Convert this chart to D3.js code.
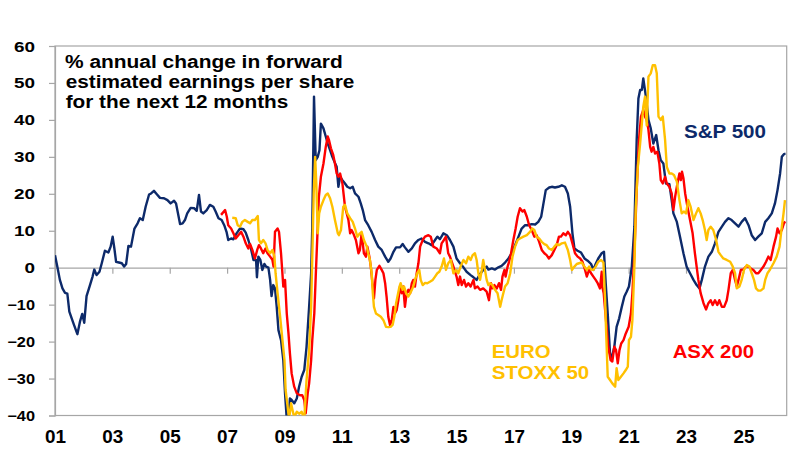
<!DOCTYPE html>
<html>
<head>
<meta charset="utf-8">
<script src="https://cdn.jsdelivr.net/npm/d3@7"></script>
<style>
  html, body { margin: 0; padding: 0; background: #fff; }
  svg { display: block; }
  text { font-family: "Liberation Sans", Arial, sans-serif; font-weight: bold; }
</style>
</head>
<body>
<svg id="chart" width="803" height="455"></svg>
<script>
// ---------------- DATA ----------------
const yTicks = [-40, -30, -20, -10, 0, 10, 20, 30, 40, 50, 60];
const xTickYears = [2001, 2003, 2005, 2007, 2009, 2011, 2013, 2015, 2017, 2019, 2021, 2023, 2025];
const xTickLabels = ["01", "03", "05", "07", "09", "11", "13", "15", "17", "19", "21", "23", "25"];
const seriesNames = ["S&P 500", "EURO STOXX 50", "ASX 200"];

const spDates = [2001.00,2001.08,2001.17,2001.26,2001.35,2001.43,2001.50,2001.64,2001.78,2001.87,2001.95,2002.02,2002.10,2002.22,2002.31,2002.37,2002.45,2002.55,2002.63,2002.74,2002.86,2002.94,2003.01,2003.07,2003.13,2003.23,2003.33,2003.41,2003.48,2003.56,2003.65,2003.77,2003.88,2003.96,2004.06,2004.16,2004.28,2004.35,2004.45,2004.55,2004.66,2004.80,2004.92,2005.03,2005.15,2005.22,2005.36,2005.45,2005.53,2005.61,2005.73,2005.85,2005.94,2006.02,2006.09,2006.17,2006.29,2006.40,2006.52,2006.60,2006.70,2006.81,2006.90,2006.98,2007.04,2007.14,2007.22,2007.33,2007.45,2007.57,2007.65,2007.74,2007.83,2007.92,2008.01,2008.04,2008.09,2008.16,2008.23,2008.30,2008.36,2008.44,2008.50,2008.55,2008.61,2008.67,2008.73,2008.79,2008.88,2008.96,2009.02,2009.08,2009.14,2009.19,2009.25,2009.34,2009.43,2009.51,2009.60,2009.69,2009.77,2009.86,2009.93,2009.97,2010.03,2010.09,2010.16,2010.22,2010.27,2010.36,2010.44,2010.51,2010.59,2010.67,2010.74,2010.82,2010.88,2010.94,2011.02,2011.11,2011.19,2011.29,2011.38,2011.46,2011.58,2011.66,2011.73,2011.81,2011.92,2012.04,2012.16,2012.27,2012.39,2012.51,2012.62,2012.70,2012.80,2012.89,2013.03,2013.12,2013.20,2013.32,2013.44,2013.55,2013.67,2013.78,2013.90,2014.02,2014.13,2014.25,2014.33,2014.42,2014.54,2014.66,2014.77,2014.89,2015.00,2015.12,2015.24,2015.35,2015.49,2015.59,2015.70,2015.82,2015.93,2016.05,2016.11,2016.23,2016.34,2016.46,2016.57,2016.69,2016.81,2016.92,2017.04,2017.16,2017.27,2017.39,2017.50,2017.62,2017.74,2017.85,2017.95,2018.03,2018.11,2018.23,2018.32,2018.43,2018.55,2018.67,2018.78,2018.88,2018.96,2019.04,2019.11,2019.22,2019.34,2019.46,2019.57,2019.69,2019.77,2019.85,2019.94,2020.06,2020.14,2020.20,2020.27,2020.35,2020.41,2020.50,2020.58,2020.67,2020.76,2020.85,2020.93,2021.01,2021.11,2021.20,2021.28,2021.34,2021.40,2021.46,2021.51,2021.57,2021.61,2021.69,2021.77,2021.86,2021.96,2022.04,2022.12,2022.21,2022.30,2022.42,2022.50,2022.56,2022.68,2022.79,2022.91,2023.02,2023.14,2023.26,2023.37,2023.47,2023.55,2023.66,2023.78,2023.90,2024.01,2024.13,2024.25,2024.36,2024.48,2024.59,2024.71,2024.83,2024.94,2025.06,2025.18,2025.29,2025.41,2025.52,2025.64,2025.76,2025.87,2025.99,2026.10,2026.19,2026.28,2026.34,2026.42,2026.47];
const spValues = [3.4,0.3,-3.3,-5.6,-6.8,-7,-11.9,-15,-18,-14.6,-12.5,-14.9,-7.7,-4.7,-2.4,-0.5,-2,-1.1,1.2,4.6,4.1,5.7,8.4,5.2,1.6,1.4,1.2,0.3,1,5.9,5.7,10.6,12,13.4,12.9,16.5,19.8,20.1,20.8,19.9,18.9,18.8,18.3,17.4,18.1,17.4,11.8,12,12.9,14.7,16.2,16.1,15.4,19.7,15.2,14.7,15.6,17,16.5,15.2,13.4,12.9,11.5,9.7,7.5,7.9,7.7,9.3,10.6,10.4,9.5,7.5,5.2,2.1,2.1,-2.6,3,2.1,-0.6,1,0.3,0,-3.3,-7.7,-4.7,-5.6,-10.6,-16.9,-19.6,-25,-34,-41,-41,-35.4,-35.8,-36.7,-35.4,-32.2,-29.5,-27.7,-21.4,-10.6,-1.5,11,46.3,29.1,30,31.8,39,37.7,35.5,33.6,31.8,30,28.7,27.3,21.9,24.6,23.7,22.8,21.9,21.5,21.9,20.1,19.2,17.4,15.6,12.9,11.5,9.7,7.5,5.7,4.8,3,1.6,2.5,4.3,5.5,5.5,6.4,5.5,4.3,5.2,6.6,7.5,7.9,7,6.6,6.1,7.5,8.4,7.7,9.3,8.8,7.5,5.7,2.5,1.2,0.1,-1.1,-2,-2.6,-3.3,-1.7,-0.6,0.3,-0.5,-0.2,-0.5,0.1,0.5,1.4,2.5,3.9,6.1,8.4,10.6,11.5,11.5,11.8,11.7,12.4,13.8,17.4,21,21.7,21.9,21.7,21.9,22.3,21.9,20.1,16.5,9.3,5.2,4.6,4.1,2.5,1.9,1,-0.6,1,2.5,3.9,4.3,-4.2,-12.4,-23.2,-24.5,-21.4,-16,-13.7,-10.6,-7.8,-6.5,-5.1,0.3,11.1,34.6,45.8,48.1,48.1,51.2,48,45.8,40,37.7,33.6,35.9,31.8,29.1,28.2,22.8,22.6,18.3,14.7,12.4,8.4,3.9,0.3,-1.5,-3.3,-4.7,-5.6,-3.3,0.3,3,4.3,6.6,9.7,11.1,12.4,13.4,12.9,12,11.1,12.4,13.4,11.5,8.8,7.5,8.4,9.3,12.4,13.4,14.7,17.4,21,25.5,30,30.8,30.8];

const asxDates = [2006.79,2006.93,2006.99,2007.04,2007.14,2007.22,2007.30,2007.39,2007.49,2007.57,2007.65,2007.74,2007.80,2007.88,2007.97,2008.05,2008.11,2008.18,2008.26,2008.34,2008.41,2008.50,2008.58,2008.62,2008.67,2008.76,2008.81,2008.88,2008.96,2009.02,2009.08,2009.14,2009.19,2009.25,2009.34,2009.43,2009.54,2009.62,2009.69,2009.74,2009.81,2009.86,2009.93,2009.97,2010.04,2010.09,2010.15,2010.20,2010.27,2010.36,2010.44,2010.51,2010.55,2010.62,2010.70,2010.76,2010.82,2010.88,2010.94,2011.02,2011.11,2011.23,2011.29,2011.34,2011.40,2011.49,2011.58,2011.63,2011.69,2011.77,2011.84,2011.89,2011.96,2012.01,2012.08,2012.12,2012.17,2012.22,2012.31,2012.39,2012.45,2012.51,2012.56,2012.62,2012.68,2012.74,2012.80,2012.85,2012.91,2012.97,2013.03,2013.09,2013.14,2013.20,2013.26,2013.32,2013.38,2013.44,2013.49,2013.55,2013.61,2013.67,2013.73,2013.82,2013.90,2014.02,2014.10,2014.19,2014.31,2014.42,2014.48,2014.56,2014.63,2014.71,2014.77,2014.89,2015.00,2015.06,2015.12,2015.18,2015.26,2015.33,2015.41,2015.49,2015.59,2015.64,2015.73,2015.82,2015.93,2016.05,2016.13,2016.20,2016.25,2016.32,2016.40,2016.48,2016.55,2016.60,2016.67,2016.71,2016.78,2016.83,2016.90,2016.98,2017.06,2017.13,2017.21,2017.30,2017.36,2017.45,2017.53,2017.62,2017.71,2017.79,2017.88,2017.97,2018.06,2018.14,2018.22,2018.32,2018.41,2018.49,2018.57,2018.64,2018.72,2018.81,2018.88,2018.96,2019.04,2019.13,2019.22,2019.31,2019.39,2019.48,2019.54,2019.62,2019.69,2019.77,2019.85,2019.92,2019.97,2020.00,2020.06,2020.08,2020.13,2020.18,2020.24,2020.29,2020.37,2020.43,2020.50,2020.56,2020.62,2020.68,2020.74,2020.82,2020.90,2021.00,2021.08,2021.13,2021.20,2021.28,2021.36,2021.43,2021.51,2021.57,2021.63,2021.69,2021.75,2021.80,2021.86,2021.92,2022.00,2022.07,2022.12,2022.19,2022.27,2022.33,2022.42,2022.50,2022.56,2022.62,2022.70,2022.77,2022.82,2022.86,2022.91,2022.97,2023.05,2023.14,2023.23,2023.31,2023.37,2023.43,2023.51,2023.61,2023.70,2023.78,2023.86,2023.93,2024.01,2024.09,2024.16,2024.25,2024.33,2024.42,2024.48,2024.56,2024.63,2024.71,2024.77,2024.83,2024.91,2025.00,2025.09,2025.18,2025.26,2025.35,2025.44,2025.52,2025.61,2025.70,2025.79,2025.87,2025.95,2026.05,2026.14,2026.19,2026.26,2026.34,2026.42,2026.47];
const asxValues = [14.3,15.6,13.8,11.5,10.6,9.3,7.9,8.8,9.7,8.4,6.6,5.2,6.4,4.8,2.5,4.8,6.1,5.2,3.9,5.2,3.9,3,2.1,0.3,9.7,10.6,9.7,3.9,-5.1,-3.3,-12.4,-17.8,-23.2,-28.6,-32.2,-34,-34.5,-34.5,-35.8,-39.4,-34,-31.3,-25,-19.6,-12.4,-2.4,9.3,19.2,24.6,28.2,32.7,35.5,34.6,32.3,30.5,28.2,25.5,24.6,25.5,22.8,16.5,12.9,9.3,10.2,9.3,7.5,3.9,4.8,9.3,3.9,3,5.7,3,0.3,-5.1,-8.3,-3.3,-0.6,0.5,-0.6,-1.5,-4.2,-7.8,-13.3,-15.5,-14.2,-10.6,-12.4,-11.5,-8.8,-5.1,-6.9,-5.1,-10.6,-6.9,-6,-6.9,-4.2,-3.3,-5.1,-1.5,1.2,5.7,7.5,8.4,8.8,8.4,5.7,5.2,3.9,6.6,7.5,8.4,3.9,3,0.3,-2.4,-4.7,-2.4,-4.7,-3.3,-5.1,-4.2,-5.1,-3.3,-5.6,-5.1,-6,-5.6,-6.5,-8.8,-4.2,-5.6,-4.7,-5.6,-4.2,-6,-2.4,-0.6,-2.4,0.3,1.6,3.9,7.5,10.6,13.8,16.1,15.2,15.6,13.8,11.5,10.2,8.4,8.8,7,4.8,3.9,3.4,2.5,3.4,4.8,6.1,8.4,8.4,9.3,8.8,9.7,8.8,6.6,3.9,3,2.5,1.6,-0.6,-2.4,-0.6,-1.5,-2.4,-3.3,-4.2,-5.1,-5.6,-1.1,-5.1,-6.9,-11.5,-16.9,-21.4,-25,-25.4,-21.4,-22.3,-25.9,-22.3,-20.5,-19.6,-17.8,-16,-12.4,-6.9,3.9,21,34.6,40.9,42.7,40.9,40,37.3,32.7,31.4,32.7,30.9,31.4,28.2,23.7,22.8,24.6,22.8,21.9,20.1,15.6,19.2,22.8,25.5,23.7,26,24.2,20.1,16.5,12.9,9.3,3.9,0.3,-3.3,-6.9,-9.6,-11.3,-9.6,-8.8,-10.1,-8.8,-10.1,-8.8,-10.6,-10.6,-8.8,-6,-1.5,-0.6,-3.3,-5.1,-3.3,-0.6,-0.5,0.3,0.3,-0.2,-0.6,-1.5,-1.5,-0.6,0.3,1.6,3,2.1,5.7,8.4,10.6,9.3,10.2,12.2,12.4];

const euroDates = [2007.18,2007.30,2007.37,2007.45,2007.53,2007.62,2007.72,2007.80,2007.88,2007.97,2008.07,2008.11,2008.18,2008.26,2008.34,2008.41,2008.50,2008.58,2008.65,2008.69,2008.76,2008.85,2008.93,2009.00,2009.04,2009.11,2009.16,2009.23,2009.28,2009.34,2009.43,2009.51,2009.60,2009.69,2009.77,2009.86,2009.93,2009.97,2010.02,2010.07,2010.11,2010.16,2010.21,2010.27,2010.36,2010.44,2010.51,2010.59,2010.67,2010.76,2010.86,2010.90,2010.97,2011.05,2011.11,2011.19,2011.29,2011.38,2011.46,2011.54,2011.63,2011.69,2011.77,2011.87,2011.92,2011.98,2012.04,2012.08,2012.12,2012.19,2012.27,2012.36,2012.45,2012.54,2012.62,2012.70,2012.77,2012.83,2012.89,2012.94,2013.01,2013.05,2013.12,2013.17,2013.24,2013.32,2013.38,2013.44,2013.49,2013.55,2013.63,2013.70,2013.75,2013.82,2013.90,2013.98,2014.07,2014.17,2014.25,2014.33,2014.40,2014.48,2014.56,2014.63,2014.71,2014.80,2014.89,2014.98,2015.06,2015.14,2015.24,2015.33,2015.41,2015.49,2015.56,2015.64,2015.70,2015.76,2015.82,2015.88,2015.93,2016.05,2016.11,2016.17,2016.25,2016.34,2016.43,2016.52,2016.57,2016.63,2016.69,2016.78,2016.87,2016.95,2017.04,2017.13,2017.21,2017.33,2017.45,2017.56,2017.64,2017.71,2017.79,2017.88,2017.97,2018.06,2018.14,2018.22,2018.32,2018.41,2018.49,2018.57,2018.67,2018.78,2018.88,2018.96,2019.02,2019.11,2019.19,2019.27,2019.36,2019.46,2019.54,2019.62,2019.69,2019.77,2019.85,2019.94,2020.04,2020.12,2020.18,2020.20,2020.27,2020.35,2020.43,2020.53,2020.58,2020.64,2020.73,2020.82,2020.90,2020.97,2021.01,2021.08,2021.13,2021.20,2021.25,2021.32,2021.40,2021.46,2021.51,2021.57,2021.63,2021.69,2021.77,2021.84,2021.92,2021.98,2022.04,2022.12,2022.19,2022.27,2022.33,2022.42,2022.50,2022.58,2022.68,2022.77,2022.85,2022.93,2023.00,2023.08,2023.16,2023.26,2023.35,2023.43,2023.51,2023.58,2023.66,2023.72,2023.78,2023.86,2023.95,2024.05,2024.13,2024.21,2024.30,2024.42,2024.54,2024.63,2024.71,2024.77,2024.86,2024.94,2025.02,2025.12,2025.21,2025.29,2025.37,2025.44,2025.52,2025.60,2025.70,2025.76,2025.84,2025.93,2026.05,2026.16,2026.26,2026.34,2026.40,2026.45];
const euroValues = [13.5,13.4,11.5,11.1,12.4,12.9,12.4,12,12.9,12.9,14,7.5,6.6,7.5,6.6,4.8,3.9,4.8,3,-1.5,-6.9,-13.3,-19.6,-25,-33.1,-37.6,-41,-36.7,-38.5,-40.5,-39,-39.5,-39,-41,-30.4,-22.3,-10.6,3,20.1,30,22.8,9.3,14.7,16.5,18.3,19.7,20.1,18.8,16.5,12.9,9.3,8.8,10.2,16.5,17,14.7,13.4,12.4,10.6,8.4,9.3,9.7,7.5,5.7,3.9,2.1,-1.5,-6.9,-10.6,-12.4,-12.8,-13.3,-14.2,-16,-16.1,-16,-15.5,-13.3,-9.7,-7.8,-5.1,-4.2,-6,-5.1,-6.9,-7.8,-6.9,-6,-5.1,-3.3,-1.5,-0.6,-3.3,-4.7,-4.1,-4.2,-3.8,-3.3,-2.4,-1.5,-1.1,0.3,2.5,-0.6,1.2,2.1,-1.5,-0.6,-1.5,0.3,2.1,1.2,3,2.1,3.4,3.9,2.1,-1.5,-3.3,-0.6,2.1,-3.3,-4.7,-4.2,-4.7,-6,-6.9,-10.6,-8.8,-6.9,-5.1,-4.2,-1.5,3,5.7,7.5,7.9,8.4,8.8,9.7,10.6,10.2,8.4,7.9,7,6.4,6.1,5.2,4.8,5.7,6.4,6.1,6.6,6.8,4.8,2.1,-0.6,0.3,1,1.2,1.4,0.3,-0.6,0.3,-0.5,-0.6,0.3,1.6,2.1,1.4,-8.8,-14.2,-29.5,-30.4,-31.3,-32.2,-27.2,-30.4,-29.5,-28.6,-27.7,-26.8,-19.6,-18.7,-14.2,0.3,16.5,27.3,33.6,39,43.6,46.3,38.5,51.7,52.6,54.8,54.8,52.6,40.9,40,40.9,34.6,27.3,25.5,25.5,25.1,23.3,18.3,14.7,15.2,14.7,18.3,16.5,12.9,14.7,16.1,14.7,12.9,10.2,7.5,10.2,11.1,10.2,7.5,4.3,3.4,2.5,2.1,1.6,0.3,-1.5,-5.6,-5.1,-3.3,-0.6,0.7,0.3,-1.5,-3.3,-5.6,-6.2,-6.2,-5.6,-3.3,-1.5,-0.5,1.2,3,5.7,11.1,14.7,18.3];

// ---------------- LAYOUT ----------------
const svg = d3.select("#chart");
const plot = { left: 55, right: 786.7, top: 46, bottom: 415.5 };
const colors = { sp: "#0d2a6a", euro: "#ffc000", asx: "#ff0000" };
const frameColor = "#a6a6a6";
const font = '"Liberation Sans", Arial, sans-serif';

const x = d3.scaleLinear().domain([2001, 2026.51]).range([plot.left, plot.right]);
const y = d3.scaleLinear().domain([-40, 60]).range([plot.bottom, plot.top]);

svg.append("defs").append("clipPath").attr("id", "clip")
  .append("rect")
  .attr("x", plot.left).attr("y", plot.top)
  .attr("width", plot.right - plot.left).attr("height", plot.bottom - plot.top);

// frame
svg.append("rect")
  .attr("x", plot.left).attr("y", plot.top)
  .attr("width", plot.right - plot.left).attr("height", plot.bottom - plot.top)
  .attr("fill", "none").attr("stroke", frameColor).attr("stroke-width", 1.2);

function stretch(sel, targetFn) {
  sel.each(function(d, i) {
    const w = targetFn(this.textContent, d, i);
    if (w) d3.select(this).attr("textLength", w).attr("lengthAdjust", "spacingAndGlyphs");
  });
}

// y axis
const yAxis = svg.append("g")
  .attr("transform", `translate(${plot.left},0)`)
  .call(d3.axisLeft(y).tickValues(yTicks).tickFormat(d3.format("d")).tickSize(6).tickPadding(14));
yAxis.select(".domain").attr("stroke", frameColor).attr("stroke-width", 1.2);
yAxis.selectAll(".tick line").attr("stroke", frameColor).attr("stroke-width", 1.2);
yAxis.selectAll(".tick text")
  .attr("font-family", font).attr("font-weight", "bold").attr("font-size", 14)
  .attr("fill", "#000").attr("dy", "0.36em");
stretch(yAxis.selectAll(".tick text"), t => {
  let w = 0;
  for (const c of t) w += (c === "-" || c === "\u2212") ? 6.7 : 10.5;
  return w;
});

// zero line with ticks
const zeroAxis = svg.append("g")
  .attr("transform", `translate(0,${y(0)})`)
  .call(d3.axisBottom(x).tickValues(xTickYears.slice(1)).tickFormat("").tickSize(6).tickSizeOuter(0));
zeroAxis.select(".domain").attr("stroke", frameColor).attr("stroke-width", 1.2);
zeroAxis.selectAll(".tick line").attr("stroke", frameColor).attr("stroke-width", 1.2);

// bottom labels
const xAxis = svg.append("g")
  .attr("transform", `translate(0,${plot.bottom})`)
  .call(d3.axisBottom(x).tickValues(xTickYears).tickFormat((d, i) => xTickLabels[i]).tickSize(0).tickPadding(15.5));
xAxis.select(".domain").remove();
xAxis.selectAll(".tick text")
  .attr("font-family", font).attr("font-weight", "bold").attr("font-size", 17.5).attr("fill", "#000");
stretch(xAxis.selectAll(".tick text"), () => 21);

// lines
const line = d3.line().x(d => x(d[0])).y(d => y(d[1]));
const lineG = svg.append("g").attr("clip-path", "url(#clip)");
const series = [
  { dates: spDates, values: spValues, color: colors.sp },
  { dates: asxDates, values: asxValues, color: colors.asx },
  { dates: euroDates, values: euroValues, color: colors.euro }
];
series.forEach(s => {
  lineG.append("path")
    .datum(d3.zip(s.dates, s.values))
    .attr("d", line)
    .attr("fill", "none")
    .attr("stroke", s.color)
    .attr("stroke-width", 2.4)
    .attr("stroke-linejoin", "round");
});

// annotations
const notes = [
  { t: "% annual change in forward", x: 65, y: 68.3, w: 277.7, c: "#000", s: 17.5 },
  { t: "estimated earnings per share", x: 65.7, y: 87.8, w: 288.6, c: "#000", s: 17.5 },
  { t: "for the next 12 months", x: 65.7, y: 107.6, w: 222.6, c: "#000", s: 17.5 },
  { t: seriesNames[0], x: 684, y: 138.3, w: 82, c: colors.sp, s: 17.5 },
  { t: "EURO", x: 491.7, y: 358.3, w: 59, c: colors.euro, s: 17.5 },
  { t: "STOXX 50", x: 491.7, y: 378.7, w: 97.6, c: colors.euro, s: 17.5 },
  { t: seriesNames[2], x: 672.7, y: 358.3, w: 81.3, c: colors.asx, s: 17.5 }
];
svg.append("g").selectAll("text").data(notes).join("text")
  .attr("x", d => d.x).attr("y", d => d.y)
  .attr("font-family", font).attr("font-weight", "bold").attr("font-size", d => d.s)
  .attr("fill", d => d.c)
  .attr("textLength", d => d.w).attr("lengthAdjust", "spacingAndGlyphs")
  .text(d => d.t);
</script>
</body>
</html>
